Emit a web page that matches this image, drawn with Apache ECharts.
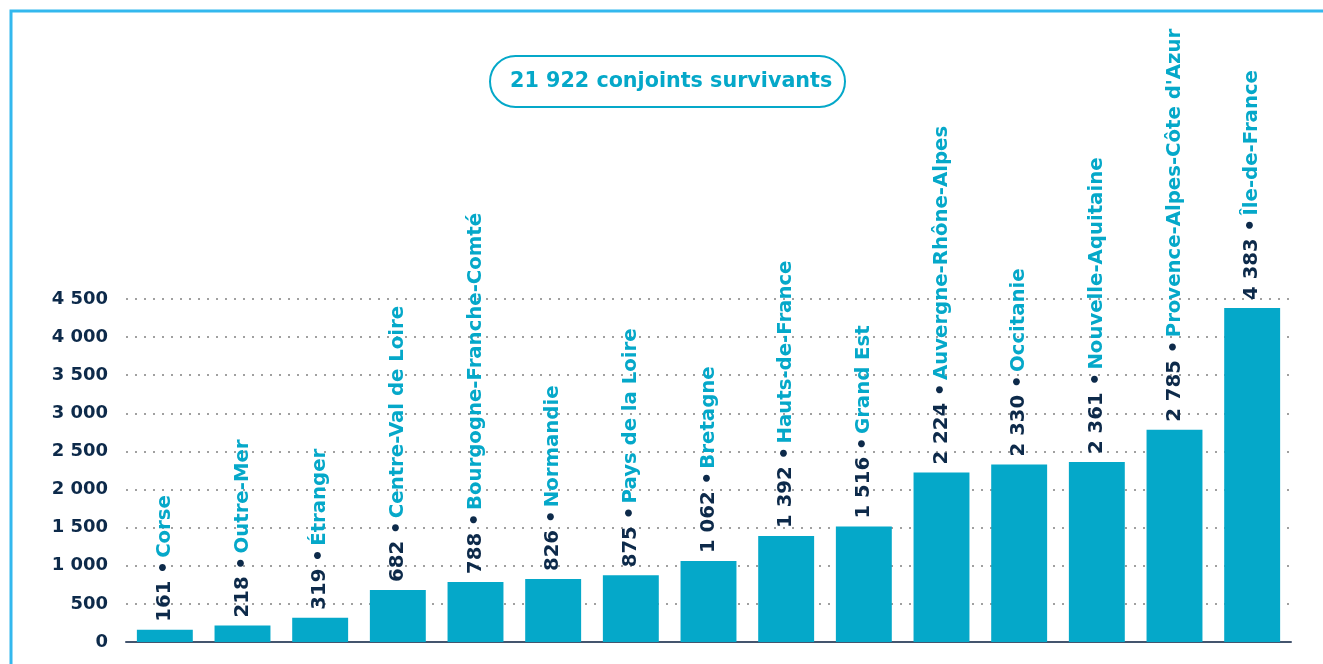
<!DOCTYPE html>
<html>
<head>
<meta charset="utf-8">
<script src="https://cdn.jsdelivr.net/npm/echarts@6/dist/echarts.min.js"></script>
<style>
html, body { margin: 0; padding: 0; background: #fff; }
#main { width: 1323px; height: 664px; }
</style>
</head>
<body>
<div id="main"></div>
<script>
// régions, triées par nombre de conjoints survivants
var regions = ['Corse', 'Outre-Mer', 'Étranger', 'Centre-Val de Loire', 'Bourgogne-Franche-Comté',
    'Normandie', 'Pays de la Loire', 'Bretagne', 'Hauts-de-France', 'Grand Est',
    'Auvergne-Rhône-Alpes', 'Occitanie', 'Nouvelle-Aquitaine', "Provence-Alpes-Côte d'Azur", 'Île-de-France'];
var conjoints = [161, 218, 319, 682, 788, 826, 875, 1062, 1392, 1516, 2224, 2330, 2361, 2785, 4383];
var titre = '21 922 conjoints survivants';

var cyan = '#05a8c9';
var marine = '#0d2a4a';

function fmt(v) {
    return String(v).replace(/\B(?=(\d{3})+(?!\d))/g, ' ');
}

var myChart = echarts.init(document.getElementById('main'));

var option = {
    animation: false,
    backgroundColor: '#fff',
    title: {
        text: titre,
        left: 490,
        top: 56,
        padding: [15, 13, 15, 20],
        borderColor: cyan,
        borderWidth: 2,
        borderRadius: 26,
        textStyle: {
            color: cyan,
            fontFamily: 'DejaVu Sans',
            fontWeight: 'bold',
            fontSize: 20.7
        }
    },
    graphic: [
        {
            type: 'polyline',
            shape: { points: [[11, 664], [11, 11], [1323, 11]] },
            style: { stroke: '#33b8ee', lineWidth: 3, fill: null },
            silent: true
        }
    ],
    grid: {
        left: 126,
        right: 32,
        top: 299,
        bottom: 22
    },
    xAxis: {
        type: 'category',
        data: regions,
        axisLine: { show: true, lineStyle: { color: '#44556e', width: 2 } },
        axisTick: { show: false },
        axisLabel: { show: false }
    },
    yAxis: {
        type: 'value',
        min: 0,
        max: 4500,
        interval: 500,
        axisLine: { show: false },
        axisTick: { show: false },
        axisLabel: {
            margin: 18,
            padding: [8, 0, 0, 0],
            color: marine,
            fontFamily: 'DejaVu Sans',
            fontWeight: 'bold',
            fontSize: 18,
            formatter: function (v) { return fmt(v); }
        },
        splitLine: {
            lineStyle: { color: '#a0a0a0', type: [2, 7], width: 2 }
        }
    },
    series: [
        {
            type: 'bar',
            data: conjoints,
            barCategoryGap: '28%',
            itemStyle: { color: cyan },
            label: {
                show: true,
                position: 'top',
                distance: 8,
                rotate: 90,
                align: 'left',
                verticalAlign: 'middle',
                formatter: function (p) {
                    return '{v|' + fmt(p.value) + ' •} {n|' + p.name + '}';
                },
                rich: {
                    v: { color: marine, fontFamily: 'DejaVu Sans', fontWeight: 'bold', fontSize: 19.7 },
                    n: { color: cyan, fontFamily: 'DejaVu Sans', fontWeight: 'bold', fontSize: 19.7 }
                }
            }
        }
    ]
};

myChart.setOption(option);
</script>
</body>
</html>
